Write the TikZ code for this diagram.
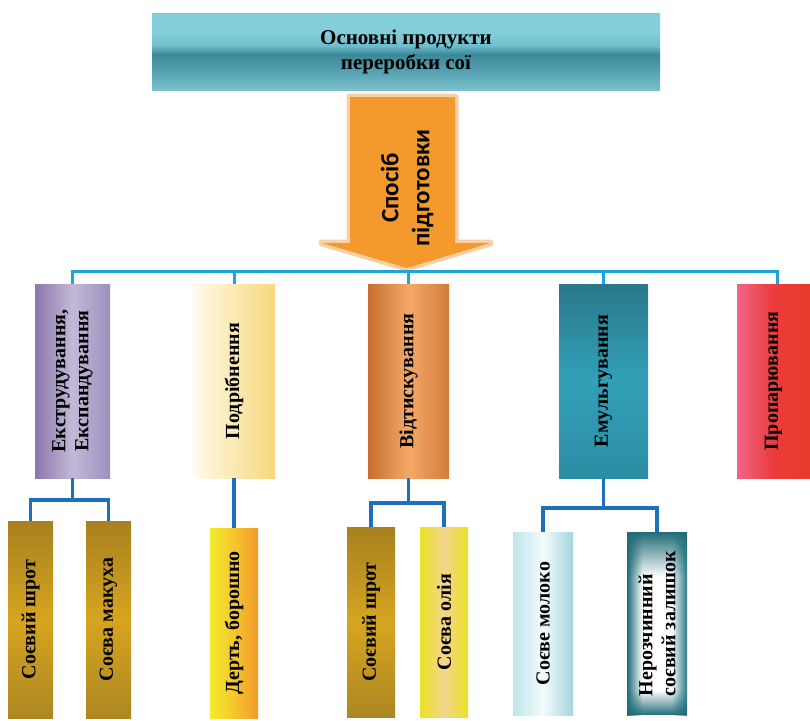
\documentclass[tikz,border=0pt]{standalone}
\usepackage{fontspec}
\setmainfont{Liberation Serif}
\newfontfamily\arrowfont{Carlito}
\usetikzlibrary{fadings}
\definecolor{bntop}{HTML}{84CDDA}
\definecolor{bntopb}{HTML}{70BFCD}
\definecolor{bndark}{HTML}{3B8898}
\definecolor{bnlow}{HTML}{53A0B0}
\definecolor{bnbot}{HTML}{7CC0CC}
\definecolor{linecyan}{HTML}{1FA5DE}
\definecolor{lineblue}{HTML}{1D70BE}
\definecolor{arroworange}{HTML}{F4992B}
\definecolor{arrowglow}{HTML}{F9CFA6}
\definecolor{golddark}{HTML}{A8801F}
\definecolor{goldmid}{HTML}{D6A520}
\definecolor{goldbot}{HTML}{AC8621}
\definecolor{puA}{HTML}{8A77AC}
\definecolor{puB}{HTML}{C3B9D7}
\definecolor{puC}{HTML}{9D8FBD}
\definecolor{crA}{HTML}{FFFBEB}
\definecolor{crB}{HTML}{F8D77C}
\definecolor{orA}{HTML}{C66F2E}
\definecolor{orB}{HTML}{F4A868}
\definecolor{orC}{HTML}{D27D38}
\definecolor{tlA}{HTML}{2A7789}
\definecolor{tlB}{HTML}{32A0B8}
\definecolor{tlC}{HTML}{2C8DA4}
\definecolor{rdA}{HTML}{F06585}
\definecolor{rdB}{HTML}{EC3B3B}
\definecolor{rdC}{HTML}{E93A2C}
\definecolor{ylA}{HTML}{F4EC2E}
\definecolor{ylB}{HTML}{F5C62C}
\definecolor{ylC}{HTML}{F39A2A}
\definecolor{olA}{HTML}{EAE326}
\definecolor{olB}{HTML}{F3D48A}
\definecolor{mkA}{HTML}{BFE6EC}
\definecolor{mkB}{HTML}{F4FBFC}
\definecolor{mkC}{HTML}{A3D6DE}
\definecolor{zlA}{HTML}{1F6B77}
\definecolor{zlB}{HTML}{2A7B86}
\pgfdeclareverticalshading{banner}{100bp}{color(0bp)=(bnbot); color(25bp)=(bnbot); color(38bp)=(bnlow); color(48bp)=(bndark); color(54bp)=(bntopb); color(62bp)=(bntop); color(75bp)=(bntop); color(100bp)=(bntop)}
\pgfdeclarehorizontalshading{zalish}{100bp}{color(0bp)=(zlA); color(25bp)=(zlA); color(38bp)=(white); color(62bp)=(white); color(75bp)=(zlB); color(100bp)=(zlB)}
\begin{document}
\begin{tikzpicture}[x=1pt,y=-1pt,
  box/.style={rectangle, inner sep=0pt, draw=none, shade},
  lab/.style={rotate=90, font=\bfseries\fontsize{20}{23}\selectfont, align=center, text=black, inner sep=0pt},
  topline/.style={draw=linecyan, line width=3pt},
  conn/.style={draw=lineblue, line width=3.5pt},
  gold/.style={box, top color=golddark, bottom color=goldbot, middle color=goldmid}]
\useasboundingbox (0,0) rectangle (810,720);
\fill[white] (0,0) rectangle (810,720);

% banner
\node[box, shading=banner, minimum width=508pt, minimum height=77pt,
      font=\bfseries\fontsize{21}{25}\selectfont, align=center] (top) at (406,51.5)
      {Основні продукти\\переробки сої};

% arrow
\coordinate (tip) at (407,268);
\draw[arrowglow, line width=7pt, line join=round] (350,97) -- (455,97) -- (455,243) -- (490,243) -- (tip) -- (322,243) -- (350,243) -- cycle;
\fill[arroworange] (350,97) -- (455,97) -- (455,243) -- (490,243) -- (tip) -- (322,243) -- (350,243) -- cycle;
\node[rotate=90, font=\arrowfont\bfseries\fontsize{25}{31}\selectfont, align=center, inner sep=0pt] (way) at (407,188) {Спосіб\\підготовки};

% level 2 boxes
\node[box, minimum width=75pt, minimum height=194pt, left color=puA, right color=puC, middle color=puB] (b1) at (72.5,381) {};
\node[box, minimum width=82pt, minimum height=194pt, left color=crA, right color=crB] (b2) at (234,381) {};
\node[box, minimum width=81pt, minimum height=194pt, left color=orA, right color=orC, middle color=orB] (b3) at (408.5,381) {};
\node[box, minimum width=89pt, minimum height=194pt, top color=tlA, bottom color=tlC, middle color=tlB] (b4) at (603.5,381) {};
\node[box, minimum width=73pt, minimum height=194pt, left color=rdA, right color=rdC, middle color=rdB] (b5) at (773.5,381) {};

\node[lab] at (b1.center) {Екструдування,\\Експандування};
\node[lab] at (b2.center) {Подрібнення};
\node[lab] at (b3.center) {Відтискування};
\node[lab] at (b4.center) {Емульгування};
\node[lab] at (b5.center) {Пропарювання};

% level 3 boxes
\node[gold, minimum width=45pt, minimum height=197pt] (c1) at (30.5,619.5) {};
\node[gold, minimum width=45pt, minimum height=197pt] (c2) at (108.5,619.5) {};
\node[box, minimum width=48pt, minimum height=190pt, left color=ylA, right color=ylC, middle color=ylB] (c3) at (234,623) {};
\node[gold, minimum width=48pt, minimum height=190pt] (c4) at (371,622) {};
\node[box, minimum width=48pt, minimum height=190pt, left color=olA, right color=olA, middle color=olB] (c5) at (444,622) {};
\node[box, minimum width=60pt, minimum height=183pt, left color=mkA, right color=mkC, middle color=mkB] (c6) at (543,623.5) {};
\node[box, minimum width=60pt, minimum height=183pt, shading=zalish] (c7) at (657,623.5) {};
\fill[zlA, path fading=south] (c7.north west) rectangle ([yshift=-45pt]c7.north east);
\fill[zlA, path fading=north] ([yshift=25pt]c7.south west) rectangle (c7.south east);

\node[lab] at (c1.center) {Соєвий шрот};
\node[lab] at (c2.center) {Соєва макуха};
\node[lab] at (c3.center) {Дерть, борошно};
\node[lab] at (c4.center) {Соєвий шрот};
\node[lab] at (c5.center) {Соєва олія};
\node[lab] at (c6.center) {Соєве молоко};
\node[lab, align=left] at (c7.center) {Нерозчинний\\соєвий залишок};

% top connectors
\coordinate (hub) at (407,271);
\draw[topline] (b1.north) -- (b1.north |- hub) -- ([xshift=3.5pt]b5.north |- hub) -- ([xshift=3.5pt]b5.north);
\foreach \n in {b2,b3,b4} \draw[topline] (\n.north) -- (\n.north |- hub);

% lower connectors
\draw[conn] (b1.south) -- ++(0,22) coordinate (j1);
\draw[conn] (c1.north) |- (j1) -| (c2.north);
\draw[conn] (b2.south) -- (c3.north);
\draw[conn] (b3.south) -- ++(0,25) coordinate (j3);
\draw[conn] (c4.north) |- (j3) -| (c5.north);
\draw[conn] (b4.south) -- ++(0,30) coordinate (j4);
\draw[conn] (c6.north) |- (j4) -| (c7.north);
\end{tikzpicture}
\end{document}
